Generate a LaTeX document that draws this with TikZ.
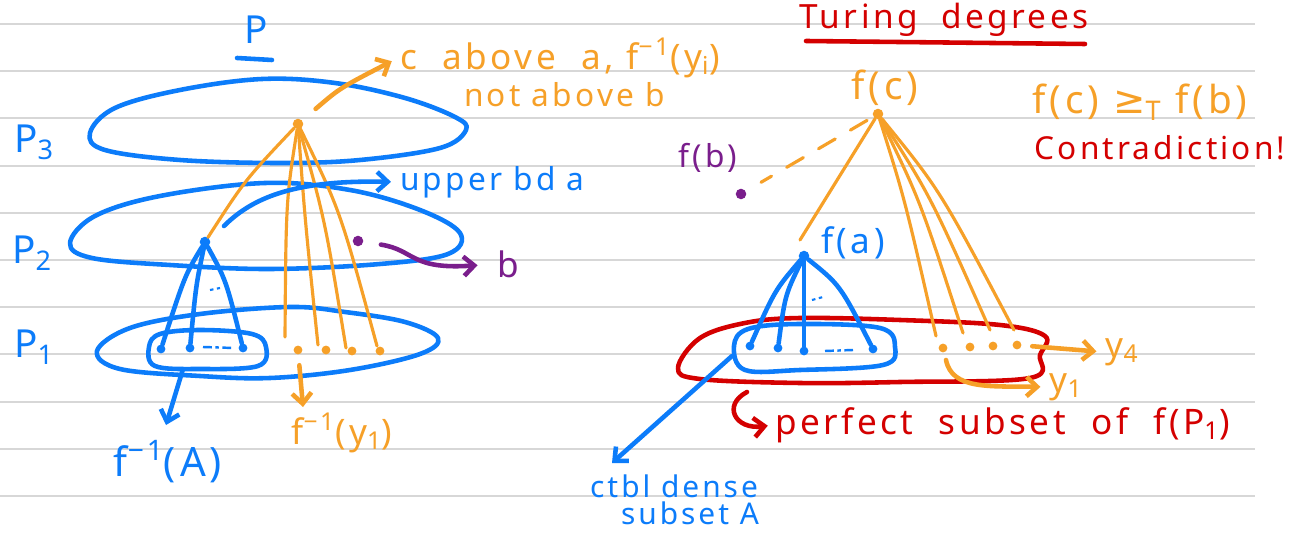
\documentclass[tikz,border=0pt]{standalone}
\usepackage{fontspec}
\setmainfont{Noto Sans}
\newfontfamily\hw[LetterSpace=10]{Noto Sans}
\newfontfamily\dv{DejaVu Sans}
\usetikzlibrary{arrows.meta}
\definecolor{pblue}{RGB}{12,124,250}
\definecolor{porange}{RGB}{246,160,40}
\definecolor{pred}{RGB}{212,0,0}
\definecolor{ppurple}{RGB}{122,30,140}
\definecolor{rulegray}{RGB}{215,215,215}
\begin{document}
\begin{tikzpicture}[x=0.02cm,y=-0.02cm,
  stroke/.style={line width=2.6pt,line cap=round,line join=round},
  thinstroke/.style={line width=1.8pt,line cap=round,line join=round},
  dot/.style={circle,fill=#1,draw=none,inner sep=0pt,minimum size=6pt},
  sdot/.style={circle,fill=#1,draw=none,inner sep=0pt,minimum size=5pt},
  lab/.style={font=\hw\fontsize{20}{22}\selectfont,inner sep=1pt},
  arr/.style={-{Straight Barb[length=6pt,width=11pt]}}
]
\useasboundingbox (0,0) rectangle (1290,536);
\fill[white] (0,0) rectangle (1290,536);
\foreach \y in {24,71,118,166,213,260,307,354,402,449,496}
  \draw[rulegray,line width=1.1pt] (0,\y) -- (1255,\y);

% ---------------- LEFT: P ----------------
\node[lab,text=pblue,font=\hw\fontsize{22}{26}\selectfont] (Ptitle) at (256,30) {P};
\draw[pblue,stroke] (237,58) -- (272,60);

\node[lab,text=pblue,font=\hw\fontsize{22}{26}\selectfont] (P3) at (34,142) {P\textsubscript{3}};
\node[lab,text=pblue,font=\hw\fontsize{22}{26}\selectfont] (P2) at (32,253) {P\textsubscript{2}};
\node[lab,text=pblue,font=\hw\fontsize{22}{26}\selectfont] (P1) at (34,347) {P\textsubscript{1}};

% P3 ellipse
\draw[pblue,stroke] plot[smooth cycle,tension=0.6] coordinates {
 (90,133) (115,108) (180,90) (262,79) (335,83) (405,98) (455,117) (466,130)
 (440,148) (360,160) (280,163) (180,160) (105,150)};
% P2 ellipse
\draw[pblue,stroke] plot[smooth cycle,tension=0.6] coordinates {
 (70,243) (95,216) (160,196) (265,183) (350,190) (420,210) (460,233)
 (448,254) (380,264) (270,269) (170,265) (92,258)};
% P1 blob
\draw[pblue,stroke] plot[smooth cycle,tension=0.6] coordinates {
 (97,351) (130,328) (200,314) (290,307) (345,312) (405,322) (438,338)
 (420,354) (350,370) (270,378) (200,376) (120,369)};
% inner box
\draw[pblue,stroke] plot[smooth cycle,tension=0.6] coordinates {
 (149,347) (160,334) (200,330) (252,334) (266,347) (258,366) (200,369) (155,366)};

% points
\node[dot=pblue] (a) at (205,242) {};
\node[dot=porange] (c) at (298,124) {};
\node[dot=ppurple] (b) at (358,241) {};
\node[sdot=pblue] (p1) at (161,349) {};
\node[sdot=pblue] (p2) at (190,348) {};
\node[sdot=pblue] (p3) at (243,348) {};
\draw[pblue,line width=1.4pt,dash pattern=on 5pt off 2pt on 2pt off 2pt] (203,347) -- (234,348);
\node[sdot=porange] (q1) at (298,350) {};
\node[sdot=porange] (q2) at (326,350) {};
\node[sdot=porange] (q3) at (352,351) {};
\node[sdot=porange] (q4) at (380,351) {};

% blue fan a -> A
\draw[pblue,stroke] (a) .. controls (185,275) .. (p1);
\draw[pblue,stroke] (a) .. controls (196,285) .. (p2);
\draw[pblue,stroke] (a) .. controls (226,280) .. (p3);
\draw[pblue,line width=1.2pt,dash pattern=on 2pt off 2pt] (210,290) -- (220,288);

% orange fan from c
\coordinate (e1) at (285,337);
\coordinate (e2) at (318,345);
\coordinate (e3) at (346,348);
\coordinate (e4) at (377,346);
\draw[porange,thinstroke] (c) .. controls (245,180) .. (a);
\draw[porange,thinstroke] (c) .. controls (286,200) .. (e1);
\draw[porange,thinstroke] (c) .. controls (305,220) .. (e2);
\draw[porange,thinstroke] (c) .. controls (325,220) .. (e3);
\draw[porange,thinstroke] (c) .. controls (340,210) .. (e4);

% labels left
\node[lab,text=porange,anchor=west] (cab) at (398,58) {c\ \ above\ \ a,\ f\textsuperscript{−1}(y\textsubscript{i})};
\node[lab,text=porange,anchor=west,font=\hw\fontsize{18}{20}\selectfont] (nab) at (462,95) {not above\ b};
\node[lab,text=pblue,anchor=west,font=\hw\fontsize{18}{20}\selectfont] (ub) at (398,182) {upper bd\ a};
\node[lab,text=ppurple] (blab) at (508,264) {b};
\node[lab,text=pblue,font=\hw\fontsize{23}{26}\selectfont] (fA) at (168,462) {f\textsuperscript{−1}(A)};
\node[lab,text=porange] (fy) at (342,433) {f\textsuperscript{−1}(y\textsubscript{1})};

% arrows left
\draw[porange,stroke,arr,shorten <=10pt,shorten >=4pt] (c) .. controls (340,88) .. (cab.west);
\coordinate (ub0) at (224,226);
\draw[pblue,stroke,arr,shorten >=4pt] (ub0) .. controls (255,195) and (300,180) .. (ub.west);
\draw[ppurple,stroke,arr,shorten <=10pt,shorten >=10pt] (b) .. controls (415,250) and (410,270) .. (blab.west);
\coordinate (bxA) at (183,369);
\draw[pblue,stroke,arr] (bxA) -- (166,425);
\draw[porange,stroke,arr,shorten <=6pt] (q1) -- (303,407);

% ---------------- RIGHT: Turing degrees ----------------
\node[lab,text=pred,font=\hw\fontsize{19}{22}\selectfont] (TD) at (944,20) {Turing\ \ degrees};
\draw[pred,stroke] (806,41) -- (1085,44);

\node[dot=porange] (fc) at (878,114) {};
\node[dot=ppurple] (fb) at (741,194) {};
\node[dot=pblue] (fa) at (804,256) {};
\node[lab,text=porange,font=\hw\fontsize{22}{24}\selectfont] (fclab) at (885,88) {f(c)};
\node[lab,text=ppurple,font=\hw\fontsize{18}{20}\selectfont] (fblab) at (708,158) {f(b)};
\node[lab,text=pblue] (falab) at (853,243) {f(a)};
\node[lab,text=porange,font=\hw\fontsize{22}{24}\selectfont] (geq) at (1140,102) {f(c) {\dv ≥}\textsubscript{T} f(b)};
\node[lab,text=pred,font=\hw\fontsize{18}{20}\selectfont] (contra) at (1160,148) {Contradiction!};

% red blob and blue box
\draw[pred,stroke] plot[smooth cycle,tension=0.6] coordinates {
 (678,368) (700,338) (745,323) (800,318) (900,320) (1000,325) (1045,336)
 (1040,355) (1030,378) (900,382) (800,383) (700,379)};
\draw[pblue,stroke] plot[smooth cycle,tension=0.6] coordinates {
 (734,346) (748,329) (800,324) (880,328) (895,347) (883,365) (800,370) (745,370)};

% blue points right
\node[sdot=pblue] (r1) at (750,346) {};
\node[sdot=pblue] (r2) at (778,348) {};
\node[sdot=pblue] (r3) at (804,351) {};
\node[sdot=pblue] (r4) at (873,349) {};
\draw[pblue,line width=1.4pt,dash pattern=on 5pt off 2pt on 2pt off 2pt] (825,351) -- (853,350);
\draw[pblue,stroke] (fa) .. controls (775,290) .. (r1);
\draw[pblue,stroke] (fa) .. controls (785,295) .. (r2);
\draw[pblue,stroke] (fa) -- (r3);
\draw[pblue,stroke] (fa) .. controls (840,285) .. (r4);
\draw[pblue,line width=1.2pt,dash pattern=on 2pt off 2pt] (812,300) -- (823,297);

% orange points right
\node[sdot=porange] (s1) at (943,348) {};
\node[sdot=porange] (s2) at (970,347) {};
\node[sdot=porange] (s3) at (993,346) {};
\node[sdot=porange] (s4) at (1017,345) {};
\coordinate (g1) at (936,336);
\coordinate (g2) at (963,333);
\coordinate (g3) at (990,330);
\coordinate (g4) at (1014,330);
\coordinate (gfa) at (800,240);
\draw[porange,thinstroke] (fc) -- (gfa);
\draw[porange,thinstroke] (fc) .. controls (905,200) .. (g1);
\draw[porange,thinstroke] (fc) .. controls (920,200) .. (g2);
\draw[porange,thinstroke] (fc) .. controls (930,195) .. (g3);
\draw[porange,thinstroke] (fc) .. controls (940,190) .. (g4);
\draw[porange,thinstroke,dash pattern=on 11pt off 10pt,shorten <=4pt,shorten >=10pt] (fc) -- (fb);

% labels right
\node[lab,text=porange] (y4) at (1122,352) {y\textsubscript{4}};
\node[lab,text=porange] (y1) at (1066,387) {y\textsubscript{1}};
\node[lab,text=pred,anchor=west] (perf) at (773,425) {perfect\ \ subset\ \ of\ \ f(P\textsubscript{1})};
\node[lab,text=pblue,inner sep=0pt,font=\hw\fontsize{17}{19}\selectfont] (ctbl1) at (674,486) {ctbl dense};
\node[lab,text=pblue,inner sep=0pt,font=\hw\fontsize{17}{19}\selectfont] (ctbl2) at (690,513) {subset A};

% arrows right
\draw[porange,stroke,arr,shorten <=6pt,shorten >=4pt] (s4) -- (y4.west);
\coordinate (s1b) at (946,360);
\draw[porange,stroke,arr,shorten >=4pt] (s1b) .. controls (952,390) and (990,386) .. (y1.west);
\coordinate (bxr) at (732,356);
\draw[pblue,stroke,arr] (bxr) -- (612,463);
\coordinate (hook) at (747,392);
\draw[pred,stroke,arr,shorten >=3pt] (hook) .. controls (722,405) and (735,430) .. (perf.west);
\end{tikzpicture}
\end{document}
